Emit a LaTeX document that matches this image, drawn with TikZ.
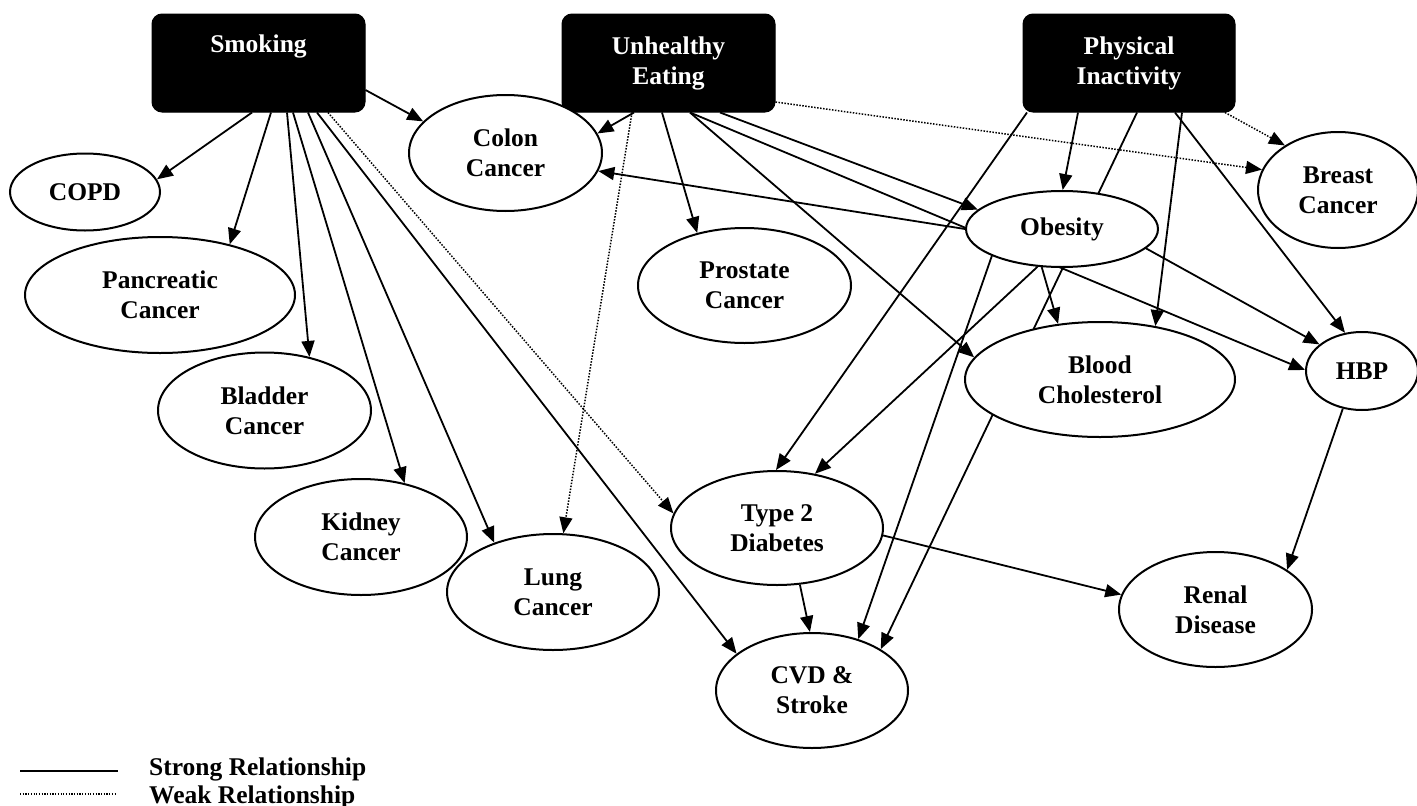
\documentclass[tikz,border=0pt]{standalone}
\usepackage{fontspec}
\setmainfont{Liberation Serif}
\usetikzlibrary{arrows.meta,shapes.geometric,backgrounds}
\begin{document}
\begin{tikzpicture}[x=1pt,y=-1pt,
  every node/.style={font=\fontsize{25.5}{30}\selectfont\bfseries, align=center, inner sep=0pt},
  riskbox/.style={draw=black, fill=black, text=white, rounded corners=10pt,
    minimum width=213pt, minimum height=98pt, line width=1pt},
  ell/.style={ellipse, draw=black, fill=white, line width=2pt},
  strong/.style={line width=1.8pt, -{Triangle[length=16pt,width=13pt]}},
  weak/.style={line width=1.5pt, dash pattern=on 1.5pt off 1.5pt, -{Triangle[length=16pt,width=13pt]}},
  legline/.style={line width=2.2pt},
  legdot/.style={line width=1.4pt, dash pattern=on 1.2pt off 1.5pt}
]
\useasboundingbox (0,0) rectangle (1417,806);

% risk factors
\node[riskbox] (smoke) at (258.5,63) {Smoking\\\strut};
\node[riskbox] (eat)   at (668.5,63) {Unhealthy\\Eating};
\node[riskbox, minimum width=212pt] (phys) at (1129,63) {Physical\\Inactivity};

% outcomes
\node[ell, minimum width=150pt, minimum height=77pt]  (copd)     at (85,192)     {COPD};
\node[ell, minimum width=270pt, minimum height=116pt] (panc)     at (160,295)    {Pancreatic\\Cancer};
\node[ell, minimum width=213pt, minimum height=116pt] (bladder)  at (264.5,410.5) {Bladder\\Cancer};
\node[ell, minimum width=212pt, minimum height=116pt] (kidney)   at (361,537)    {Kidney\\Cancer};
\node[ell, minimum width=212pt, minimum height=116pt] (lung)     at (553,592)    {Lung\\Cancer};
\node[ell, minimum width=193pt, minimum height=116pt] (colon)    at (505.5,153)  {Colon\\Cancer};
\node[ell, minimum width=213pt, minimum height=115pt] (prostate) at (744.5,285.5) {Prostate\\Cancer};
\node[ell, minimum width=212pt, minimum height=114pt] (t2d)      at (777,528)    {Type 2\\Diabetes};
\node[ell, minimum width=192pt, minimum height=115pt] (cvd)      at (812,690.5)  {CVD \&\\Stroke};
\node[ell, minimum width=192pt, minimum height=76pt]  (obesity)  at (1062,229)   {Obesity};
\node[ell, minimum width=160pt, minimum height=116pt] (breast)   at (1338,190)   {Breast\\Cancer};
\node[ell, minimum width=270pt, minimum height=115pt] (bchol)    at (1100,379.5) {Blood\\Cholesterol};
\node[ell, minimum width=112pt, minimum height=78pt]  (hbp)      at (1362,371)   {HBP};
\node[ell, minimum width=193pt, minimum height=115pt] (renal)    at (1215.5,609.5) {Renal\\Disease};

% legend text
\node[anchor=base west] (lgstrong) at (149,775) {Strong Relationship};
\node[anchor=base west] (lgweak)   at (149,803) {Weak Relationship};

\begin{scope}[on background layer]
\fill[white] (0,0) rectangle (1417,806);
% smoking
\draw[strong] ([xshift=-6.5pt]smoke.south) -- (copd.10);
\draw[strong] ([xshift=12.5pt]smoke.south) -- (panc.36);
\draw[strong] ([xshift=28.5pt]smoke.south) -- (bladder.50);
\draw[strong] ([xshift=34.5pt]smoke.south) -- (kidney.51);
\draw[strong] ([xshift=49.5pt]smoke.south) -- (lung.140);
\draw[strong] ([xshift=58.5pt]smoke.south) -- (cvd.154);
\draw[weak]   ([xshift=69.5pt]smoke.south) -- (t2d.172);
\draw[strong] ([yshift=-27pt]smoke.east) -- (colon.159);
% unhealthy eating
\draw[strong] ([xshift=-34.5pt]eat.south) -- (colon.12);
\draw[weak]   ([xshift=-36.5pt]eat.south) -- (lung.80);
\draw[strong] ([xshift=-6.5pt]eat.south) -- (prostate.132);
\draw[strong] ([xshift=21.5pt]eat.south) -- (bchol.170);
\draw[strong] ([xshift=21.5pt]eat.south) -- (hbp.179);
\draw[strong] ([xshift=51.5pt]eat.south) -- (obesity.167);
\draw[weak]   ([yshift=-39pt]eat.east) -- (breast.165);
% physical inactivity
\draw[strong] ([xshift=-102pt]phys.south) -- (t2d.91);
\draw[strong] ([xshift=-51pt]phys.south) -- (obesity.89);
\draw[strong] ([xshift=8pt]phys.south) -- (cvd.31);
\draw[strong] ([xshift=53pt]phys.south) -- (bchol.44);
\draw[strong] ([xshift=46pt]phys.south) -- (hbp.114);
\draw[weak]   ([xshift=96pt]phys.south) -- (breast.140);
% obesity
\draw[strong] (obesity.180) -- (colon.349);
\draw[strong] (obesity.237) -- (t2d.55);
\draw[strong] (obesity.242) -- (bchol.127);
\draw[strong] (obesity.201) -- (cvd.48);
\draw[strong] (obesity.347) -- (hbp.148);
% diabetes, HBP
\draw[strong] (t2d.292) -- (cvd.92);
\draw[strong] (t2d.356) -- (renal.171);
\draw[strong] (hbp.243) -- (renal.29);
\end{scope}

% legend samples
\draw[legline] (20,771) -- (118,771);
\draw[legdot] (20,794) -- (117,794);
\end{tikzpicture}
\end{document}
